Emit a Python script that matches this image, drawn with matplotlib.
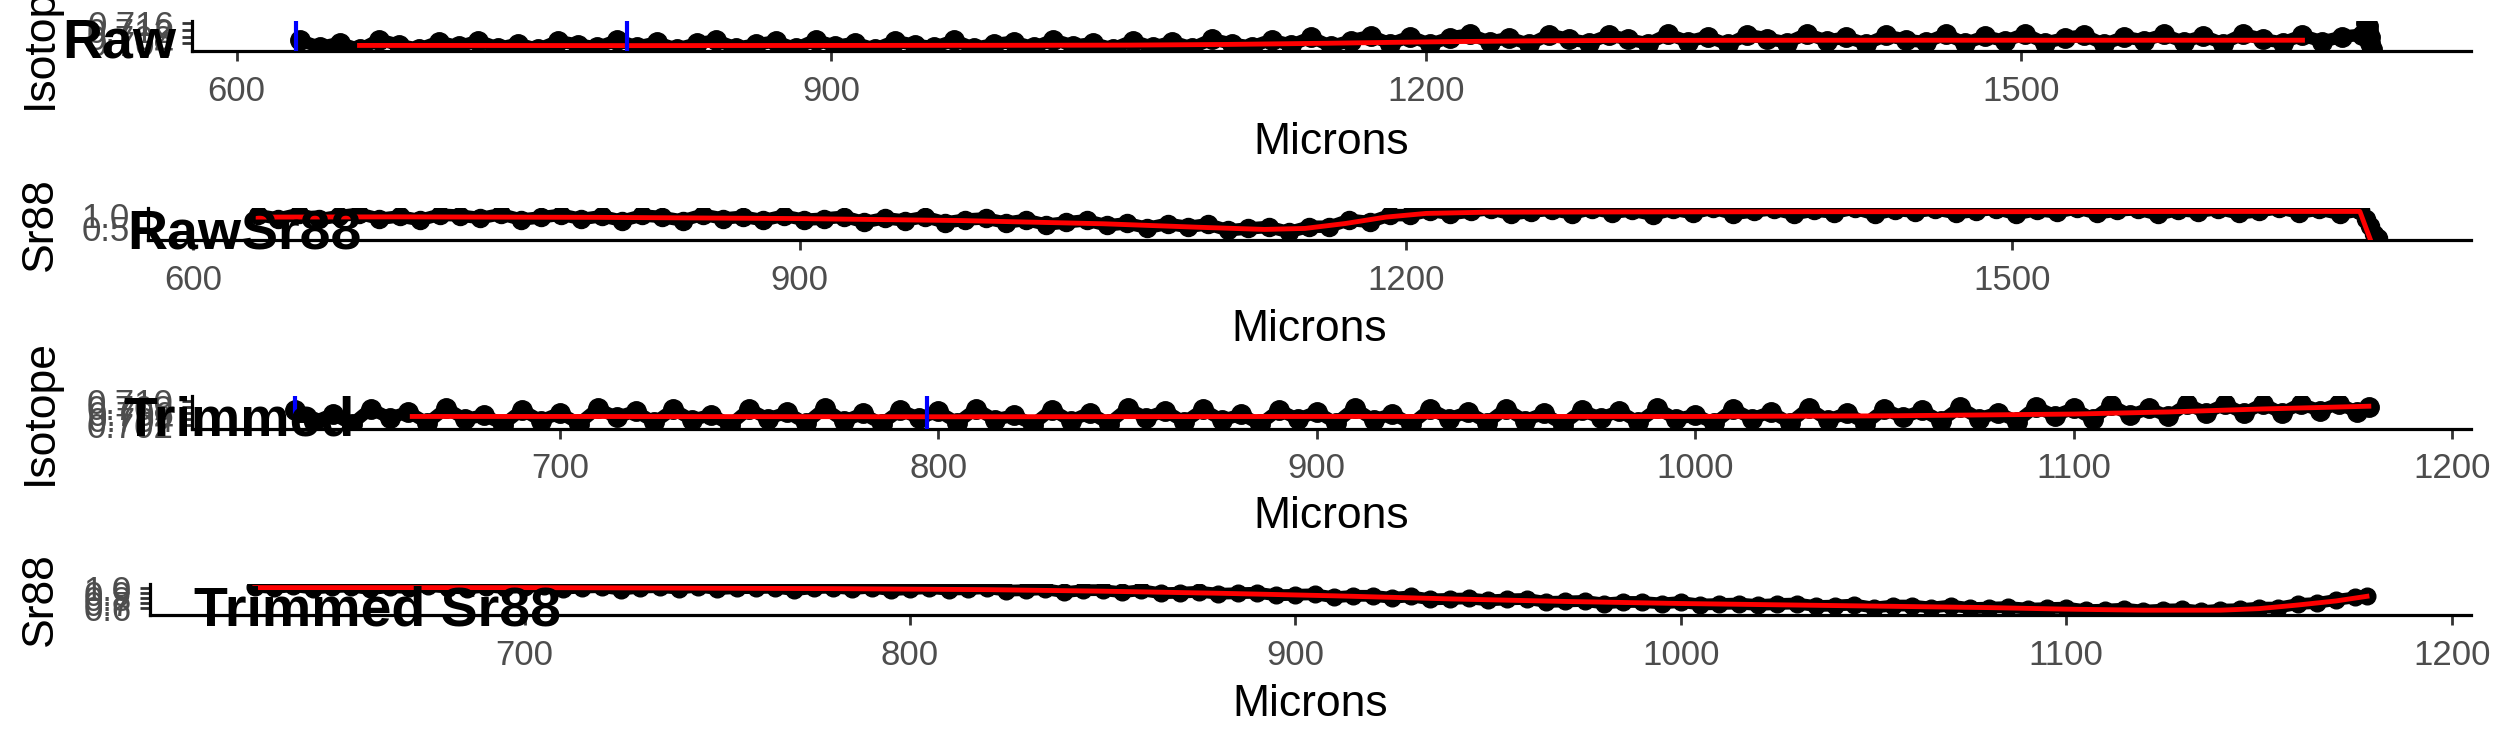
import numpy as np
import matplotlib.pyplot as plt
from matplotlib.transforms import blended_transform_factory

plt.rcParams["font.family"] = ["Liberation Sans", "DejaVu Sans"]

# ---------------- data ----------------
# raw profile: points every 10 microns from 632 to 1672
raw_x = np.arange(632, 1673, 10)
raw_iso = [0.7057, 0.7017, 0.7042, 0.7003, 0.7062, 0.7029, 0.7007, 0.7049, 0.7021, 0.7055,
           0.7012, 0.7037, 0.7005, 0.7053, 0.7032, 0.7015, 0.7060, 0.7019, 0.7045, 0.7007,
           0.7039, 0.7057, 0.7013, 0.7033, 0.7051, 0.7009, 0.7061, 0.7023, 0.7043, 0.7006,
           0.7054, 0.7030, 0.7017, 0.7058, 0.7011, 0.7035, 0.7049, 0.7015, 0.7062, 0.7025,
           0.7041, 0.7008,
           0.7056, 0.7017, 0.7050, 0.7013, 0.7065, 0.7037, 0.7020, 0.7061, 0.7030, 0.7076,
           0.7022, 0.7056, 0.7084, 0.7038, 0.7080, 0.7035, 0.7074, 0.7093, 0.7048, 0.7073,
           0.7034, 0.7091, 0.7065,
           0.7043, 0.7088, 0.7063, 0.7038, 0.7094, 0.7050, 0.7080, 0.7033, 0.7090, 0.7068,
           0.7044, 0.7096, 0.7054, 0.7076, 0.7036, 0.7086, 0.7060, 0.7046, 0.7093, 0.7040,
           0.7082, 0.7052, 0.7097, 0.7042, 0.7070, 0.7088, 0.7034, 0.7078, 0.7056, 0.7092,
           0.7048, 0.7084, 0.7038, 0.7095, 0.7064, 0.7044, 0.7087, 0.7050, 0.7079, 0.7091]
raw_iso_end_x = [1674, 1675, 1675, 1676, 1676, 1677]
raw_iso_end_y = [0.7160, 0.7142, 0.7112, 0.7075, 0.7040, 0.7008]
raw_iso_mean_x = [662, 700, 800, 900, 1000, 1050, 1100, 1150, 1200, 1250, 1300, 1400, 1500, 1600, 1642]
raw_iso_mean_y = [0.7027, 0.7027, 0.7026, 0.7027, 0.7028, 0.7029, 0.7033, 0.7040, 0.7048, 0.7054,
                  0.7057, 0.7058, 0.7058, 0.7058, 0.7058]

raw_sr = [1.01, 0.87, 1.06, 0.84, 0.97, 1.07, 0.86, 0.96, 0.81, 1.03,
          0.99, 0.89, 1.05, 0.83, 0.92, 1.03, 0.85, 0.97, 0.78, 1.00,
          0.93, 0.79, 1.03, 0.87, 0.95, 0.80, 0.99, 0.82, 0.87, 0.95,
          0.72, 0.89, 0.79, 0.94, 0.71, 0.83, 0.88, 0.70, 0.82, 0.62,
          0.72, 0.80, 0.59, 0.68, 0.49, 0.66, 0.53, 0.64, 0.39, 0.47,
          0.53, 0.32, 0.54, 0.54, 0.82, 0.73, 1.01, 1.01, 1.19, 1.05,
          1.16, 1.26, 1.04, 1.15, 1.23, 1.07, 1.26, 1.11, 1.20, 1.02,
          1.24, 1.09, 1.28, 1.06, 1.16, 1.25, 1.05, 1.20, 1.11, 1.28,
          1.04, 1.23, 1.14, 1.25, 1.09, 1.18, 1.27, 1.05, 1.22, 1.12,
          1.29, 1.08, 1.20, 1.25, 1.04, 1.22, 1.14, 1.27, 1.08, 1.17,
          1.29, 1.11, 1.24, 1.06, 1.21]
raw_sr_end_x = [1672, 1675, 1677, 1679, 1681]
raw_sr_end_y = [1.21, 0.85, 0.55, 0.25, 0.07]
raw_sr_mean_x = [632, 700, 800, 900, 980, 1050, 1100, 1130, 1150, 1170, 1190, 1210, 1240,
                 1300, 1400, 1500, 1600, 1672, 1677]
raw_sr_mean_y = [0.93, 0.94, 0.92, 0.87, 0.79, 0.66, 0.51, 0.43, 0.47, 0.67, 0.93, 1.08, 1.13,
                 1.14, 1.15, 1.15, 1.16, 1.16, 0.06]

# trimmed profile: points every 5 microns from 630 to 1175, plus last point
trim_x = list(np.arange(630, 1176, 5)) + [1178]
trim_iso = [0.7070, 0.7032, 0.7058, 0.7024, 0.7076, 0.7045, 0.7065, 0.7028, 0.7078, 0.7040,
            0.7055, 0.7023, 0.7072, 0.7036, 0.7062, 0.7026, 0.7077, 0.7047, 0.7068, 0.7030,
            0.7074, 0.7038, 0.7056, 0.7022, 0.7075, 0.7042, 0.7064, 0.7027, 0.7078, 0.7034,
            0.7060, 0.7025, 0.7071, 0.7044, 0.7067, 0.7029, 0.7076, 0.7039, 0.7054, 0.7023,
            0.7073, 0.7035, 0.7063, 0.7026, 0.7077, 0.7046, 0.7069, 0.7031, 0.7074, 0.7037,
            0.7057, 0.7024, 0.7072, 0.7041, 0.7066, 0.7028, 0.7078, 0.7038, 0.7059, 0.7025,
            0.7075, 0.7043, 0.7065, 0.7029, 0.7076, 0.7036, 0.7061, 0.7023, 0.7070, 0.7045,
            0.7068, 0.7030, 0.7077, 0.7040, 0.7056, 0.7027, 0.7075, 0.7043, 0.7065, 0.7029,
            0.7079, 0.7037, 0.7062, 0.7026, 0.7074, 0.7047, 0.7070, 0.7035, 0.7081, 0.7043,
            0.7063, 0.7033, 0.7082, 0.7053, 0.7077, 0.7042, 0.7087, 0.7054, 0.7077, 0.7050,
            0.7091, 0.7062, 0.7091, 0.7060, 0.7093, 0.7061, 0.7093, 0.7069, 0.7093, 0.7064,
            0.7080]
trim_iso_mean_x = [661, 700, 800, 900, 1000, 1050, 1100, 1125, 1150, 1178]
trim_iso_mean_y = [0.7050, 0.7050, 0.7049, 0.7050, 0.7050, 0.7052, 0.7058, 0.7065, 0.7075, 0.7084]

trim_sr = [1.02, 0.99, 1.03, 0.98, 1.01, 1.02, 0.97, 1.01, 0.99, 1.03,
           1.00, 0.98, 1.02, 0.99, 1.01, 1.03, 0.98, 1.00, 1.01, 0.96,
           1.00, 1.01, 0.98, 1.02, 0.97, 0.99, 0.99, 1.00, 0.95, 0.99,
           1.00, 0.97, 1.00, 0.95, 0.97, 0.99, 0.96, 0.97, 0.99, 0.94,
           0.95, 0.97, 0.91, 0.95, 0.95, 0.91, 0.95, 0.89, 0.90, 0.92,
           0.88, 0.89, 0.90, 0.85, 0.86, 0.87, 0.81, 0.84, 0.84, 0.80,
           0.83, 0.77, 0.78, 0.79, 0.75, 0.77, 0.78, 0.72, 0.73, 0.74,
           0.69, 0.72, 0.72, 0.69, 0.72, 0.67, 0.68, 0.69, 0.66, 0.68,
           0.69, 0.64, 0.65, 0.67, 0.61, 0.65, 0.65, 0.61, 0.65, 0.60,
           0.61, 0.62, 0.59, 0.60, 0.61, 0.56, 0.57, 0.59, 0.55, 0.57,
           0.58, 0.54, 0.57, 0.58, 0.61, 0.61, 0.68, 0.70, 0.76, 0.81,
           0.84]
trim_sr_mean_x = [630, 660, 700, 740, 780, 820, 850, 880, 910, 940, 970, 1000, 1030, 1060,
                  1080, 1100, 1120, 1140, 1150, 1160, 1170, 1178]
trim_sr_mean_y = [1.00, 1.00, 1.00, 0.99, 0.98, 0.96, 0.93, 0.89, 0.84, 0.78, 0.73, 0.69, 0.66,
                  0.63, 0.61, 0.58, 0.56, 0.56, 0.59, 0.66, 0.74, 0.83]

window_bounds = [630, 797]

titles = ["Raw", "RawSr88", "Trimmed", "Trimmed Sr88"]
ylabels = ["Isotope", "Sr88", "Isotope", "Sr88"]
yticks = [[0.704, 0.708, 0.712, 0.716], [0.5, 1.0],
          [0.702, 0.704, 0.706, 0.708, 0.710], [0.6, 0.7, 0.8, 0.9, 1.0]]
ytick_fmt = ["{:.3f}", "{:.1f}", "{:.3f}", "{:.1f}"]
raw_xticks = [600, 900, 1200, 1500]
trim_xticks = [700, 800, 900, 1000, 1100, 1200]

# ---------------- layout (pixels) ----------------
W, H = 2495, 749
fig = plt.figure(figsize=(W / 100, H / 100), dpi=100)

# left, right, top, bottom of each panel
boxes = [(192, 2471, 21, 51), (148, 2471, 208, 240),
         (192, 2471, 396, 428.5), (150, 2471, 584, 615)]
xlims = [(577.5, 1727), (577.5, 1727), (602.8, 1205), (602.8, 1205)]
ylims = [(0.6994, 0.7172), (0.0, 1.30), (0.7010, 0.7118), (0.466, 1.07)]
title_pos = [(62, 58), (127, 250), (123, 436), (194, 625)]
xlabel_y = [142, 330, 516, 704]
# point band thickness (line width, marker size) per panel
band_lw = [9, 9, 9, 8.5]
band_ms = [14, 13, 14, 12]

series = [
    (raw_x, raw_iso, raw_iso_mean_x, raw_iso_mean_y, raw_iso_end_x, raw_iso_end_y, True, raw_xticks),
    (raw_x, raw_sr, raw_sr_mean_x, raw_sr_mean_y, raw_sr_end_x, raw_sr_end_y, False, raw_xticks),
    (trim_x, trim_iso, trim_iso_mean_x, trim_iso_mean_y, [], [], True, trim_xticks),
    (trim_x, trim_sr, trim_sr_mean_x, trim_sr_mean_y, [], [], False, trim_xticks),
]

for i, (x, y, mx, my, ex, ey, show_window, xt) in enumerate(series):
    l, r, t, b = boxes[i]
    ax = fig.add_axes([l / W, 1 - b / H, (r - l) / W, (b - t) / H])

    ax.plot(x, y, color="black", lw=band_lw[i], marker="o", ms=band_ms[i],
            solid_joinstyle="round", solid_capstyle="round", zorder=2)
    if len(ex) > 0:
        ax.plot(ex, ey, "-o", color="black", lw=band_lw[i] - 2, ms=band_ms[i], zorder=2)
    ax.plot(mx, my, color="red", lw=3.5, zorder=3)
    if show_window:
        for xb in window_bounds:
            ax.axvline(xb, color="blue", lw=3, zorder=4)

    ax.set_xlim(*xlims[i])
    ax.set_ylim(*ylims[i])
    ax.set_xticks(xt)
    ax.set_xticklabels([str(v) for v in xt])
    ax.set_yticks(yticks[i])
    ax.set_yticklabels([ytick_fmt[i].format(v) for v in yticks[i]])

    for side in ["top", "right"]:
        ax.spines[side].set_visible(False)
    for side in ["left", "bottom"]:
        ax.spines[side].set_linewidth(2.3)
        ax.spines[side].set_color("black")
    ax.tick_params(axis="both", length=7.5, width=2, color="#333333",
                   labelcolor="#4D4D4D", labelsize=25)
    ax.tick_params(axis="x", pad=9.5)
    ax.tick_params(axis="y", pad=5.5)

    ax.set_xlabel("Microns", fontsize=32, va="center")
    ax.xaxis.set_label_coords(0.5, 1 - xlabel_y[i] / H,
                              transform=blended_transform_factory(ax.transAxes, fig.transFigure))
    ax.set_ylabel(ylabels[i], fontsize=32, va="center", ha="center")
    ax.yaxis.set_label_coords(40 / W, 0.5,
                              transform=blended_transform_factory(fig.transFigure, ax.transAxes))

    tx, ty = title_pos[i]
    fig.text(tx / W, 1 - ty / H, titles[i], fontsize=40, fontweight="bold",
             ha="left", va="baseline", zorder=10)

fig.savefig("out.png", dpi=100)
plt.close(fig)
